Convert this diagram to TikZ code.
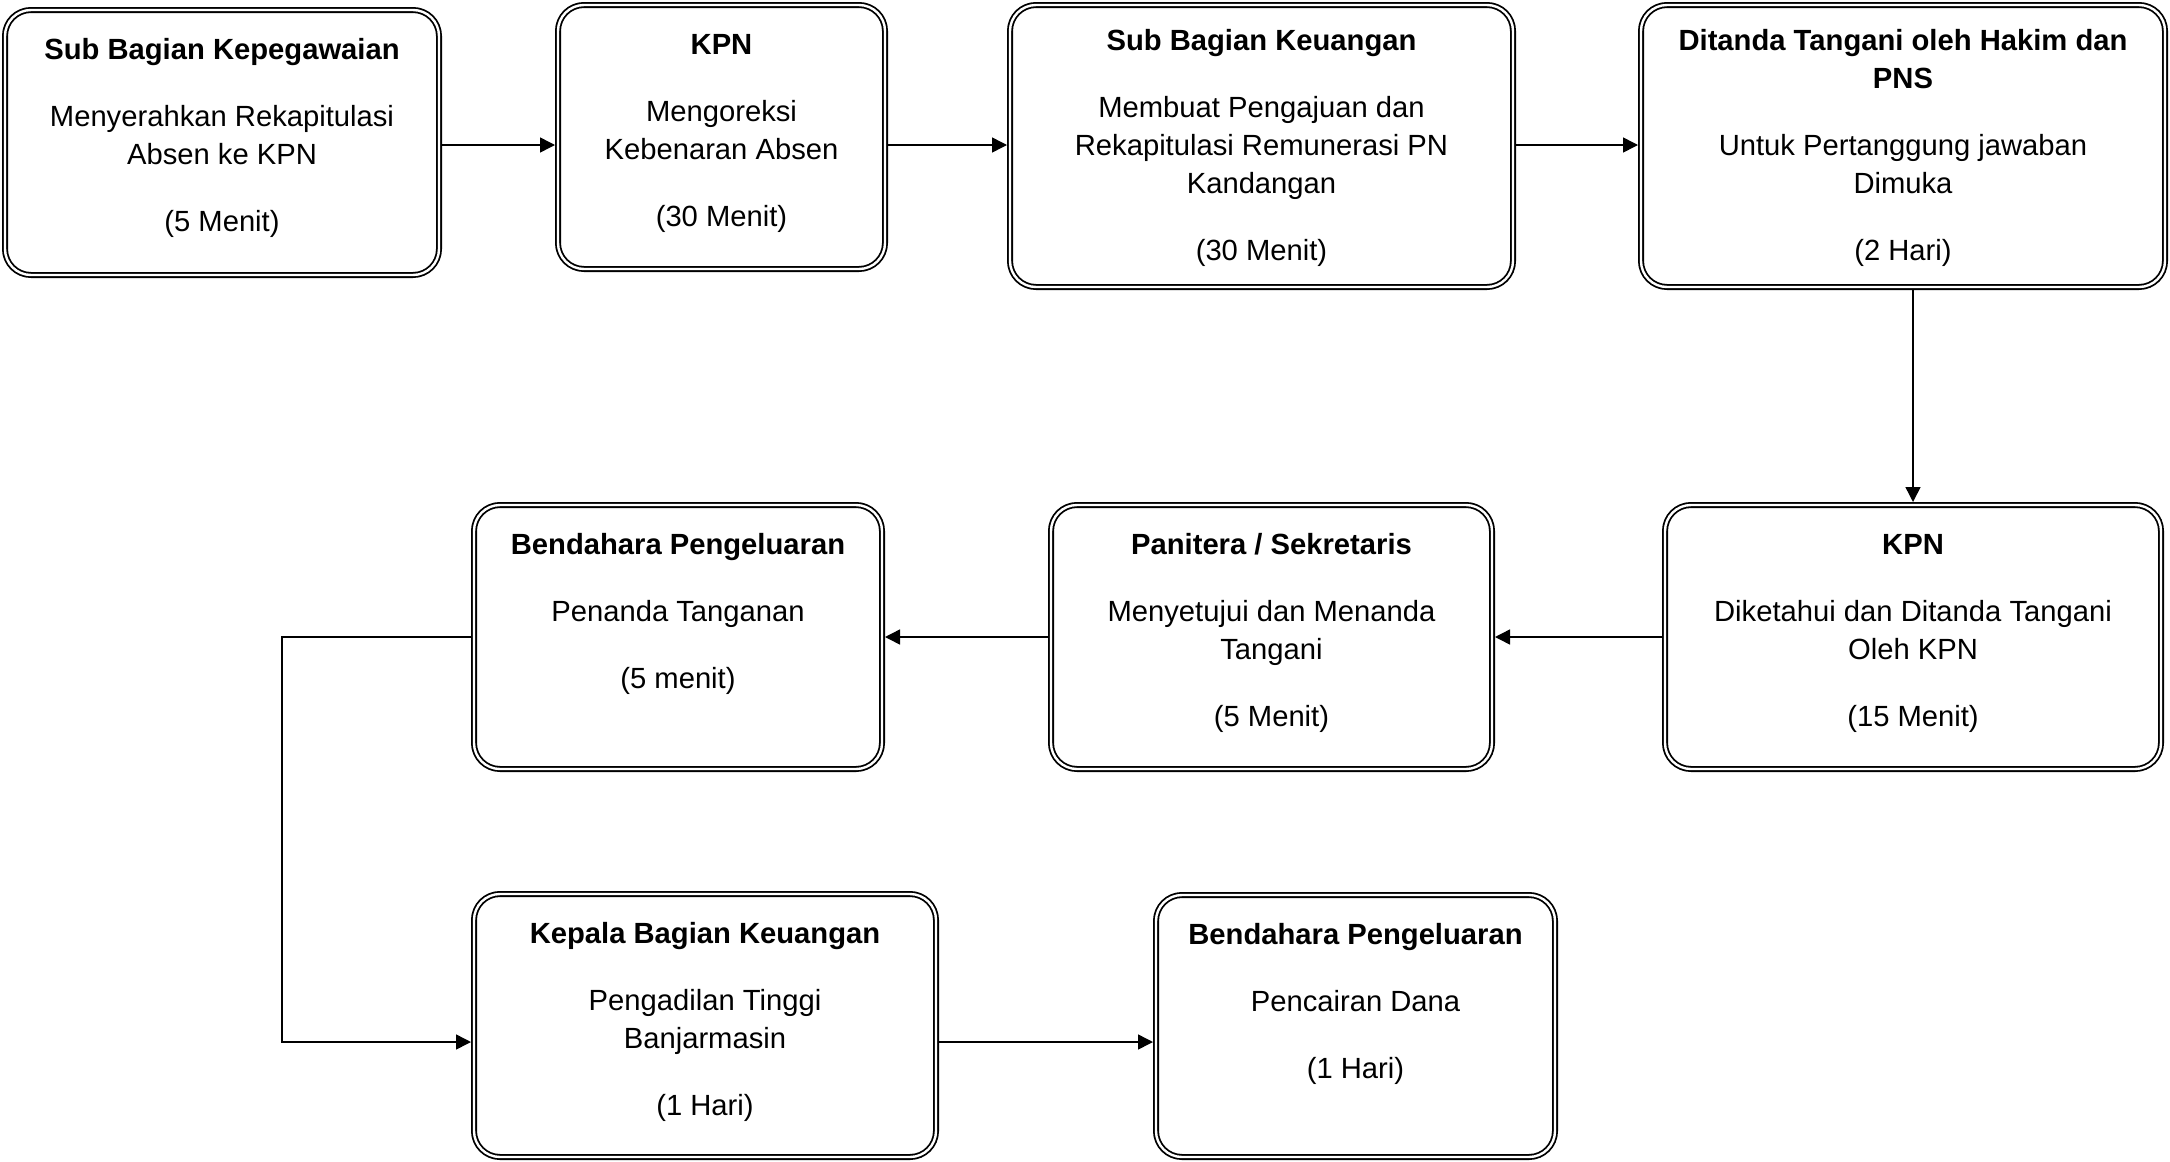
\documentclass[tikz,border=0pt]{standalone}
\usepackage{fontspec}
\setmainfont{Liberation Sans}
\usetikzlibrary{positioning,arrows.meta}

\tikzset{
    box/.style={draw, double, line width=0.9pt, double distance=1.2pt,
        rounded corners=13pt, outer sep=1.5pt, inner sep=0pt},
    txt/.style={align=center, inner sep=0pt, outer sep=0pt,
        font=\fontsize{14.6}{19}\selectfont},
    arr/.style={line width=0.75pt, -{Triangle[length=7.5pt, width=7.5pt]}}
}

\begin{document}
\begin{tikzpicture}[x=0.5pt, y=-0.5pt]
    \useasboundingbox (0,0) rectangle (2170,1162);

    % Coordinates for the connectors
    \coordinate (row1) at (0,145);
    \coordinate (elbow) at (282,1042);

    % Boxes
    \node[box, minimum width=217pt, minimum height=132.5pt] (b1) at (222,142.5) {};
    \node[box, minimum width=163.5pt, minimum height=132pt] (b2) at (721.5,137) {};
    \node[box, minimum width=251.5pt, minimum height=141pt] (b3) at (1261.5,146) {};
    \node[box, minimum width=262pt, minimum height=141pt] (b4) at (1903,146) {};
    \node[box, minimum width=248pt, minimum height=132pt] (b5) at (1913,637) {};
    \node[box, minimum width=220.5pt, minimum height=132pt] (b6) at (1271.5,637) {};
    \node[box, minimum width=204pt, minimum height=132pt] (b7) at (678,637) {};
    \node[box, minimum width=231pt, minimum height=131.5pt] (b8) at (705,1025.5) {};
    \node[box, minimum width=199.5pt, minimum height=131pt] (b9) at (1355.5,1026) {};

    % Texts
    \node[txt, below=13pt of b1.north] (t1) {\strut\textbf{Sub Bagian Kepegawaian}\\[14.5pt]
        Menyerahkan Rekapitulasi\\ Absen ke KPN\\[14.5pt] (5 Menit)};
    \node[txt, below=13pt of b2.north] (t2) {\strut\textbf{KPN}\\[14.5pt]
        Mengoreksi\\ Kebenaran Absen\\[14.5pt] (30 Menit)};
    \node[txt, below=11pt of b3.north] (t3) {\strut\textbf{Sub Bagian Keuangan}\\[14.5pt]
        Membuat Pengajuan dan\\ Rekapitulasi Remunerasi PN\\ Kandangan\\[14.5pt] (30 Menit)};
    \node[txt, below=11pt of b4.north] (t4) {\strut\textbf{Ditanda Tangani oleh Hakim dan}\\ \textbf{PNS}\\[14.5pt]
        Untuk Pertanggung jawaban\\ Dimuka\\[14.5pt] (2 Hari)};
    \node[txt, below=13pt of b5.north] (t5) {\strut\textbf{KPN}\\[14.5pt]
        Diketahui dan Ditanda Tangani\\ Oleh KPN\\[14.5pt] (15 Menit)};
    \node[txt, below=13pt of b6.north] (t6) {\strut\textbf{Panitera / Sekretaris}\\[14.5pt]
        Menyetujui dan Menanda\\ Tangani\\[14.5pt] (5 Menit)};
    \node[txt, below=13pt of b7.north] (t7) {\strut\textbf{Bendahara Pengeluaran}\\[14.5pt]
        Penanda Tanganan\\[14.5pt] (5 menit)};
    \node[txt, below=13pt of b8.north] (t8) {\strut\textbf{Kepala Bagian Keuangan}\\[14.5pt]
        Pengadilan Tinggi\\ Banjarmasin\\[14.5pt] (1 Hari)};
    \node[txt, below=13pt of b9.north] (t9) {\strut\textbf{Bendahara Pengeluaran}\\[14.5pt]
        Pencairan Dana\\[14.5pt] (1 Hari)};

    % Arrows
    \foreach \a/\b in {b1/b2, b2/b3, b3/b4}
        \draw[arr] (\a.east |- row1) -- (\b.west |- row1);
    \draw[arr] (b4.south -| b5.north) -- (b5.north);
    \draw[arr] (b5.west) -- (b6.east);
    \draw[arr] (b6.west) -- (b7.east);
    \draw[arr] (b7.west) -| (elbow) -- (b8.west |- elbow);
    \draw[arr] (b8.east |- elbow) -- (b9.west |- elbow);
\end{tikzpicture}
\end{document}
